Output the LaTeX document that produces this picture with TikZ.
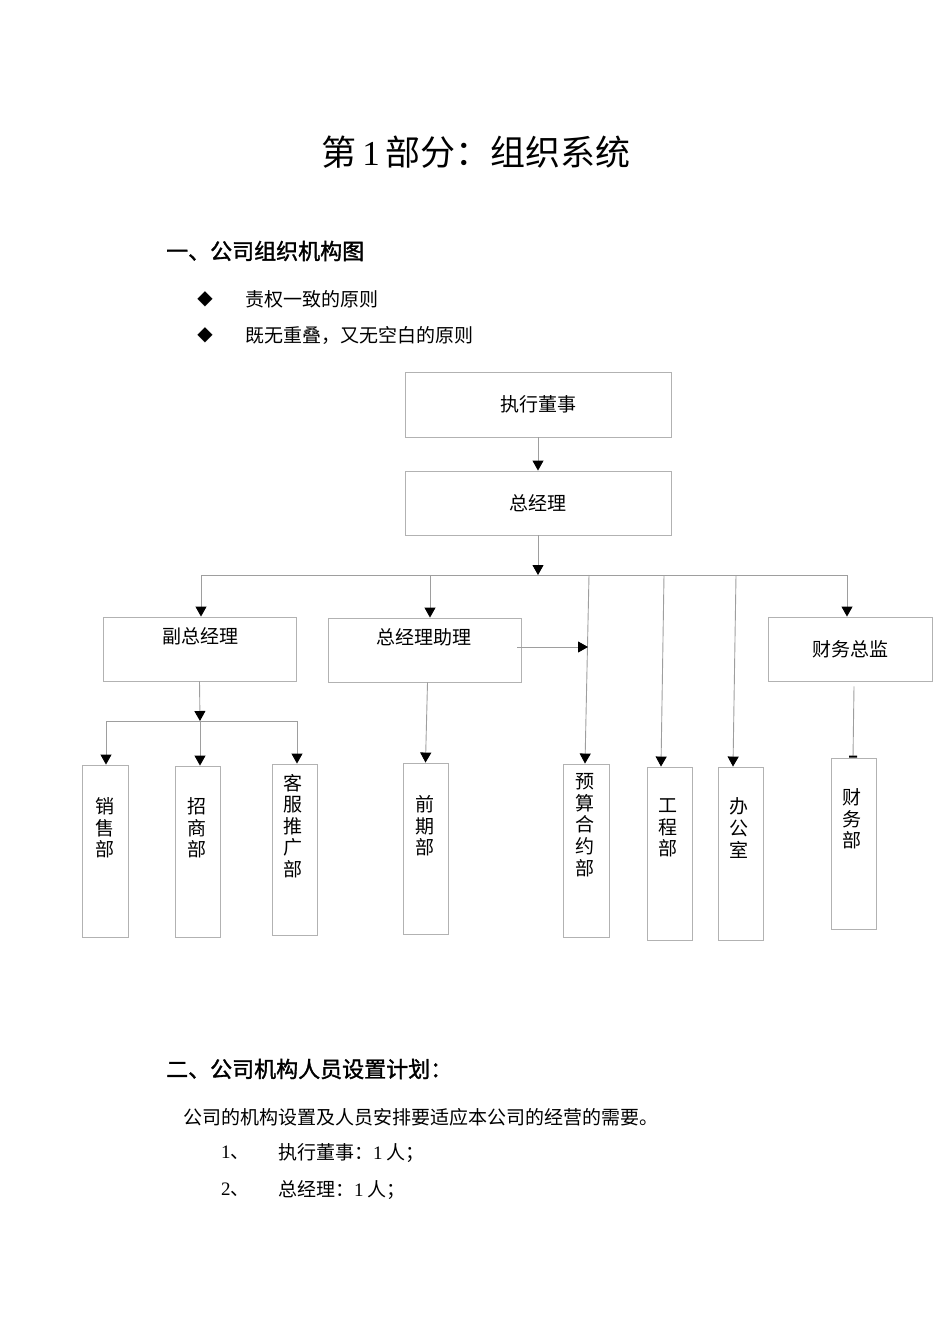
\documentclass[tikz,border=0pt]{standalone}
\usepackage{fontspec}
\setmainfont{Noto Sans CJK SC}
\newfontfamily\lat{Liberation Serif}
\newfontfamily\hb[FakeBold=1.5]{Noto Sans CJK SC}
\newfontfamily\sym{DejaVu Sans}
\usetikzlibrary{arrows.meta}
\begin{document}
\begin{tikzpicture}[x=1pt,y=1pt,
  box/.style={draw=black!30, line width=0.9pt, inner sep=0pt, font=\fontsize{19}{22}\selectfont},
  conn/.style={draw=black!38, line width=0.9pt},
  arr/.style={conn, -{Triangle[color=black,width=11pt,length=10pt]}},
  lbl/.style={font=\fontsize{19}{22}\selectfont, inner sep=0pt},
  vtext/.style={font=\fontsize{19}{21.6}\selectfont, align=center, inner sep=0pt},
  body/.style={font=\fontsize{19}{22}\selectfont, inner sep=0pt, anchor=west},
  head/.style={font=\fontsize{22}{26}\hb, inner sep=0pt, anchor=west},
  bullet/.style={font=\fontsize{20}{24}\sym, inner sep=0pt},
]
\useasboundingbox (0,0) rectangle (950,-1344);

% title and text
\node[font=\fontsize{35}{40}\selectfont, inner sep=0pt] (title) at (476,-152) {第\,{\lat 1}\,部分：组织系统};
\node[head] (h1) at (166,-251) {一、公司组织机构图};
\node[bullet] (b1) at (205,-299) {◆};
\node[body] (t1) at (245,-299) {责权一致的原则};
\node[bullet] (b2) at (205,-335) {◆};
\node[body] (t2) at (245,-335) {既无重叠，又无空白的原则};

\node[head] (h2) at (166,-1069) {二、公司机构人员设置计划：};
\node[body] (p1) at (183,-1117) {公司的机构设置及人员安排要适应本公司的经营的需要。};
\node[body] (n1) at (221,-1153) {{\lat 1}、};
\node[body] (l1) at (278,-1153) {执行董事：{\lat 1} 人；};
\node[body] (n2) at (221,-1190) {{\lat 2}、};
\node[body] (l2) at (278,-1190) {总经理：{\lat 1} 人；};

% top boxes
\node[box, minimum width=266, minimum height=65] (dsh) at (538,-404.5) {执行董事};
\node[box, minimum width=266, minimum height=64] (zjl) at (538,-503) {总经理};
\node[box, minimum width=193, minimum height=64] (fzjl) at (199.5,-649) {};
\node[lbl] (fzjl-t) at (200,-636) {副总经理};
\node[box, minimum width=193, minimum height=64] (zl) at (424.5,-650) {};
\node[lbl] (zl-t) at (424,-637) {总经理助理};
\node[box, minimum width=164, minimum height=64] (cwzj) at (850,-649) {财务总监};

% bottom boxes
\node[box, minimum width=46, minimum height=172] (xs) at (105,-851) {};
\node[vtext] (xs-t) at (105,-828) {销\\售\\部};
\node[box, minimum width=45, minimum height=171] (zs) at (197.5,-851.5) {};
\node[vtext] (zs-t) at (197,-828) {招\\商\\部};
\node[box, minimum width=45, minimum height=171] (kf) at (294.5,-849.5) {};
\node[vtext] (kf-t) at (293,-826) {客\\服\\推\\广\\部};
\node[box, minimum width=45, minimum height=171] (qq) at (425.5,-848.5) {};
\node[vtext] (qq-t) at (425,-826) {前\\期\\部};
\node[box, minimum width=46, minimum height=173] (ys) at (586,-850.5) {};
\node[vtext] (ys-t) at (585,-825) {预\\算\\合\\约\\部};
\node[box, minimum width=45, minimum height=173] (gc) at (669.5,-853.5) {};
\node[vtext] (gc-t) at (668,-828) {工\\程\\部};
\node[box, minimum width=45, minimum height=173] (bgs) at (740.5,-853.5) {};
\node[vtext] (bgs-t) at (739,-828) {办\\公\\室};
\node[box, minimum width=45, minimum height=171] (cw) at (853.5,-843.5) {};
\node[vtext] (cw-t) at (852,-819) {财\\务\\部};

% connectors
\coordinate (bus) at (538,-575);
\coordinate (busL) at (201,-575);
\coordinate (busR) at (847,-575);
\coordinate (bq) at (430,-575);
\coordinate (b3) at (589,-575);
\coordinate (b4) at (664,-575);
\coordinate (b5) at (736,-575);
\coordinate (b3m) at (588,-647);
\coordinate (sub) at (200,-721);
\coordinate (subL) at (106,-721);
\coordinate (subR) at (297,-721);

\draw[arr] (dsh.south) -- (zjl.north);
\draw[conn] (busL) -- (busR);
\draw[arr] (zjl.south) -- (bus);
\draw[arr] (busL) -- (busL |- fzjl.north);
\draw[arr] (bq) -- (bq |- zl.north);
\draw[arr] (busR) -- (busR |- cwzj.north);
\draw[arr] (b3) -- ([xshift=-1pt]ys.north);
\draw[arr] (b4) -- ([xshift=-8.5pt]gc.north);
\draw[arr] (b5) -- ([xshift=-7.5pt]bgs.north);
\draw[arr] ([xshift=-4pt,yshift=3pt]zl.east) -- (b3m);

\draw[arr] (fzjl.south) -- (sub);
\draw[conn] (subL) -- (subR);
\draw[arr] (subL) -- (subL |- xs.north);
\draw[arr] (sub) -- (sub |- zs.north);
\draw[arr] (subR) -- (subR |- kf.north);
\draw[arr] ([xshift=3pt]zl.south) -- (qq.north);
\draw[conn, -{Bar[color=black,width=8pt,line width=2pt]}] ([xshift=4pt,yshift=-5pt]cwzj.south) -- ([xshift=-0.5pt]cw.north);
\end{tikzpicture}
\end{document}
